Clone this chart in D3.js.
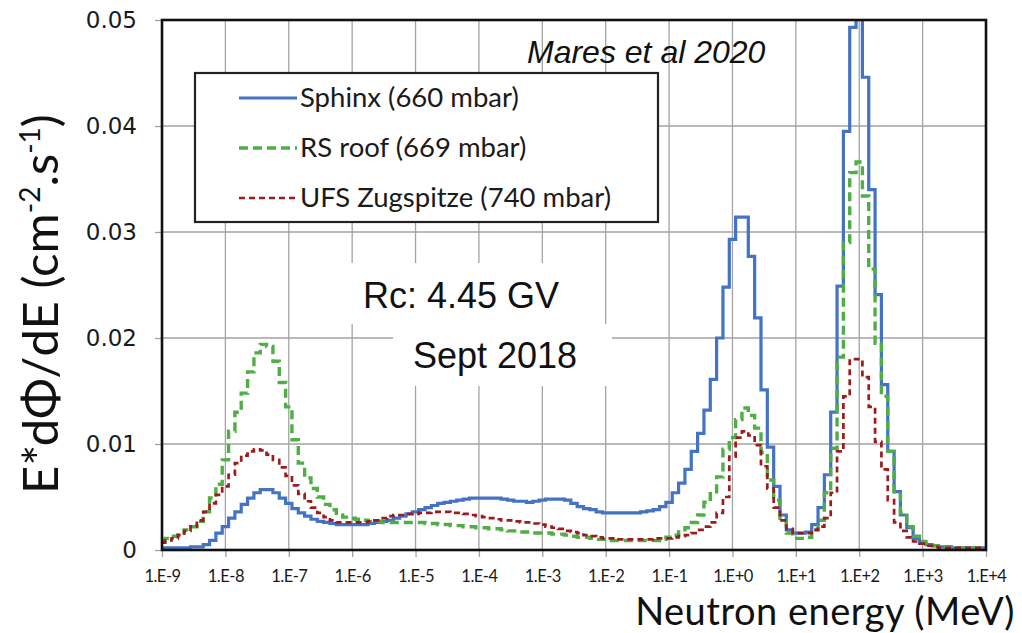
<!DOCTYPE html>
<html>
<head>
<meta charset="utf-8">
<script src="https://cdn.jsdelivr.net/npm/d3@7"></script>
<style>
  body { margin: 0; background: #fff; }
  svg { display: block; }
</style>
</head>
<body>
<svg id="chart" width="1022" height="633"></svg>
<script>
// Lethargy-bin spectra E*dPhi/dE, 10 bins per decade, bin centres from 1E-9 to 1E+4 MeV
const binsPerDecade = 10;
const firstExponent = -9;

const sphinx = [
  0.0002, 0.0002, 0.0002, 0.0002, 0.0002, 0.0003, 0.0003, 0.0005, 0.0009, 0.0016,
  0.0022, 0.0030, 0.0036, 0.0043, 0.0049, 0.0054, 0.0057, 0.0057, 0.0054, 0.0049,
  0.0044, 0.0039, 0.0035, 0.0032, 0.0029, 0.0027, 0.0026, 0.0025, 0.0024, 0.0024,
  0.0024, 0.0024, 0.0024, 0.0025, 0.0026, 0.0027, 0.0028, 0.0030, 0.0032, 0.0034,
  0.0036, 0.0038, 0.0040, 0.0042, 0.0044, 0.0045, 0.0046, 0.0047, 0.0048, 0.0049,
  0.0049, 0.0049, 0.0049, 0.0049, 0.0048, 0.0047, 0.0046, 0.0046, 0.0045, 0.0046,
  0.0047, 0.0048, 0.0048, 0.0048, 0.0047, 0.0044, 0.0041, 0.0039, 0.0038, 0.0036,
  0.0035, 0.0035, 0.0035, 0.0035, 0.0035, 0.0035, 0.0036, 0.0037, 0.0038, 0.0041,
  0.0045, 0.0054, 0.0063, 0.0076, 0.0093, 0.0110, 0.0132, 0.0161, 0.0200, 0.0248,
  0.0293, 0.0314, 0.0314, 0.0277, 0.0219, 0.0151, 0.0097, 0.0060, 0.0033, 0.0019,
  0.0016, 0.0016, 0.0017, 0.0024, 0.0040, 0.0071, 0.0130, 0.0249, 0.0395, 0.0493,
  0.0530, 0.0446, 0.0340, 0.0241, 0.0156, 0.0093, 0.0055, 0.0033, 0.0021, 0.0011,
  0.0007, 0.0005, 0.0004, 0.0003, 0.0003, 0.0002, 0.0002, 0.0002, 0.0002, 0.0002,
  0.0002
];

const rsRoof = [
  0.0009, 0.0011, 0.0013, 0.0016, 0.0019, 0.0022, 0.0027, 0.0036, 0.0049, 0.0062,
  0.0085, 0.0112, 0.0130, 0.0148, 0.0168, 0.0186, 0.0194, 0.0192, 0.0178, 0.0158,
  0.0135, 0.0104, 0.0082, 0.0068, 0.0058, 0.0050, 0.0043, 0.0038, 0.0033, 0.0031,
  0.0030, 0.0029, 0.0028, 0.0027, 0.0027, 0.0026, 0.0026, 0.0026, 0.0026, 0.0026,
  0.0026, 0.0026, 0.0025, 0.0025, 0.0024, 0.0024, 0.0023, 0.0023, 0.0022, 0.0022,
  0.0021, 0.0021, 0.0020, 0.0020, 0.0019, 0.0018, 0.0018, 0.0017, 0.0017, 0.0016,
  0.0016, 0.0016, 0.0015, 0.0015, 0.0014, 0.0013, 0.0012, 0.0012, 0.0011, 0.0010,
  0.0010, 0.0009, 0.0009, 0.0009, 0.0009, 0.0009, 0.0009, 0.0009, 0.0009, 0.0010,
  0.0012, 0.0014, 0.0017, 0.0021, 0.0026, 0.0033, 0.0045, 0.0055, 0.0069, 0.0095,
  0.0106, 0.0123, 0.0134, 0.0127, 0.0115, 0.0092, 0.0066, 0.0047, 0.0028, 0.0016,
  0.0011, 0.0011, 0.0012, 0.0019, 0.0028, 0.0054, 0.0096, 0.0182, 0.0290, 0.0356,
  0.0366, 0.0334, 0.0265, 0.0195, 0.0145, 0.0093, 0.0055, 0.0035, 0.0022, 0.0013,
  0.0008, 0.0006, 0.0004, 0.0003, 0.0003, 0.0002, 0.0002, 0.0002, 0.0002, 0.0002,
  0.0002
];

const ufsZugspitze = [
  0.0007, 0.0009, 0.0011, 0.0014, 0.0018, 0.0022, 0.0028, 0.0036, 0.0044, 0.0052,
  0.0060, 0.0071, 0.0082, 0.0089, 0.0093, 0.0095, 0.0094, 0.0090, 0.0085, 0.0078,
  0.0070, 0.0061, 0.0053, 0.0046, 0.0040, 0.0035, 0.0031, 0.0028, 0.0026, 0.0026,
  0.0026, 0.0026, 0.0026, 0.0027, 0.0028, 0.0030, 0.0032, 0.0033, 0.0033, 0.0034,
  0.0034, 0.0035, 0.0035, 0.0036, 0.0036, 0.0036, 0.0035, 0.0035, 0.0034, 0.0033,
  0.0032, 0.0031, 0.0030, 0.0029, 0.0028, 0.0028, 0.0027, 0.0026, 0.0026, 0.0025,
  0.0024, 0.0022, 0.0021, 0.0020, 0.0018, 0.0017, 0.0016, 0.0014, 0.0013, 0.0012,
  0.0011, 0.0011, 0.0010, 0.0010, 0.0010, 0.0010, 0.0010, 0.0010, 0.0011, 0.0011,
  0.0011, 0.0012, 0.0013, 0.0014, 0.0016, 0.0019, 0.0022, 0.0026, 0.0035, 0.0050,
  0.0088, 0.0106, 0.0112, 0.0108, 0.0099, 0.0079, 0.0058, 0.0040, 0.0028, 0.0020,
  0.0016, 0.0016, 0.0016, 0.0019, 0.0022, 0.0030, 0.0054, 0.0093, 0.0145, 0.0180,
  0.0180, 0.0163, 0.0135, 0.0102, 0.0076, 0.0047, 0.0026, 0.0018, 0.0012, 0.0008,
  0.0006, 0.0004, 0.0003, 0.0002, 0.0002, 0.0002, 0.0002, 0.0002, 0.0002, 0.0002,
  0.0002
];

const seriesNames = ["Sphinx (660 mbar)", "RS roof (669 mbar)", "UFS Zugspitze (740 mbar)"];
const xTickValues = [1e-9, 1e-8, 1e-7, 1e-6, 1e-5, 1e-4, 1e-3, 1e-2, 1e-1, 1e0, 1e1, 1e2, 1e3, 1e4];
const xTickLabels = ["1.E-9", "1.E-8", "1.E-7", "1.E-6", "1.E-5", "1.E-4", "1.E-3",
                     "1.E-2", "1.E-1", "1.E+0", "1.E+1", "1.E+2", "1.E+3", "1.E+4"];
const yTickValues = [0, 0.01, 0.02, 0.03, 0.04, 0.05];
const yTickLabels = ["0", "0.01", "0.02", "0.03", "0.04", "0.05"];

// bin-centre energies (MeV) on the lethargy grid
const energies = sphinx.map((_, i) => Math.pow(10, firstExponent + i / binsPerDecade));

const svg = d3.select("#chart");
const plot = { left: 162, right: 986, top: 20, bottom: 550 };

const x = d3.scaleLog().domain([1e-9, 1e4]).range([plot.left, plot.right]);
const y = d3.scaleLinear().domain([0, 0.05]).range([plot.bottom, plot.top]);

svg.append("rect").attr("width", 1022).attr("height", 633).attr("fill", "#fff");

// grid
const grid = svg.append("g").attr("stroke", "#a3a3a3").attr("stroke-width", 1.3);
grid.selectAll("line.v").data(xTickValues.slice(1, -1)).join("line")
  .attr("x1", d => x(d)).attr("x2", d => x(d))
  .attr("y1", plot.top).attr("y2", plot.bottom);
grid.selectAll("line.h").data(yTickValues.slice(1, -1)).join("line")
  .attr("x1", plot.left).attr("x2", plot.right)
  .attr("y1", d => y(d)).attr("y2", d => y(d));

// axes
const xAxis = d3.axisBottom(x).tickValues(xTickValues)
  .tickFormat((d, i) => xTickLabels[i]).tickSize(7).tickSizeOuter(0).tickPadding(13);
const gx = svg.append("g").attr("transform", `translate(0,${plot.bottom})`).call(xAxis);
gx.select(".domain").remove();
gx.selectAll(".tick line").attr("stroke", "#a3a3a3").attr("stroke-width", 1.3);
gx.selectAll(".tick text").attr("fill", "#1a1a1a")
  .style("font-family", "Lato, 'Open Sans', sans-serif").style("font-size", "16.5px")
  .style("letter-spacing", "-0.5px");

const yAxis = d3.axisLeft(y).tickValues(yTickValues)
  .tickFormat((d, i) => yTickLabels[i]).tickSize(7).tickSizeOuter(0).tickPadding(18);
const gy = svg.append("g").attr("transform", `translate(${plot.left},0)`).call(yAxis);
gy.select(".domain").remove();
gy.selectAll(".tick line").attr("stroke", "#a3a3a3").attr("stroke-width", 1.3);
gy.selectAll(".tick text").attr("fill", "#1a1a1a")
  .style("font-family", "'DejaVu Sans', Verdana, sans-serif").style("font-size", "23px");

// annotation boxes (white background behind the texts)
svg.append("rect").attr("x", 345).attr("y", 263).attr("width", 255).attr("height", 61).attr("fill", "#fff");
svg.append("rect").attr("x", 393).attr("y", 324).attr("width", 219).attr("height", 62).attr("fill", "#fff");

// series
svg.append("clipPath").attr("id", "plotClip").append("rect")
  .attr("x", plot.left).attr("y", plot.top)
  .attr("width", plot.right - plot.left).attr("height", plot.bottom - plot.top);

const line = d3.line().curve(d3.curveStep).x(d => x(d[0])).y(d => y(d[1]));
const series = [
  { name: seriesNames[0], values: sphinx, color: "#4472c4", width: 3.2, dash: null },
  { name: seriesNames[1], values: rsRoof, color: "#4fae44", width: 3.4, dash: "9,5" },
  { name: seriesNames[2], values: ufsZugspitze, color: "#9c1b1d", width: 2.7, dash: "6,4" }
];
const curves = svg.append("g").attr("clip-path", "url(#plotClip)");
series.forEach(s => {
  curves.append("path")
    .datum(energies.map((e, i) => [e, s.values[i]]))
    .attr("d", line)
    .attr("fill", "none")
    .attr("stroke", s.color)
    .attr("stroke-width", s.width)
    .attr("stroke-dasharray", s.dash)
    .attr("stroke-linejoin", "miter");
});

// plot frame
svg.append("rect")
  .attr("x", plot.left).attr("y", plot.top)
  .attr("width", plot.right - plot.left).attr("height", plot.bottom - plot.top)
  .attr("fill", "none").attr("stroke", "#111").attr("stroke-width", 2.6);

// legend
const legend = svg.append("g");
legend.append("rect").attr("x", 195).attr("y", 73).attr("width", 463).attr("height", 149)
  .attr("fill", "#fff").attr("stroke", "#222").attr("stroke-width", 2.2);
const legendRows = [98, 148, 198];
series.forEach((s, i) => {
  legend.append("line")
    .attr("x1", 239).attr("x2", 297).attr("y1", legendRows[i]).attr("y2", legendRows[i])
    .attr("stroke", s.color).attr("stroke-width", s.width).attr("stroke-dasharray", s.dash);
  legend.append("text")
    .attr("x", 300).attr("y", legendRows[i] + 9)
    .attr("fill", "#1a1a1a")
    .style("font-family", "Lato, 'Open Sans', sans-serif").style("font-size", "27.5px")
    .text(s.name);
});

// annotations
svg.append("text").attr("x", 527).attr("y", 63)
  .style("font-family", "'Liberation Sans', Arial, sans-serif").style("font-style", "italic")
  .style("font-size", "32px").attr("fill", "#111").text("Mares et al 2020");
svg.append("text").attr("x", 363).attr("y", 308)
  .style("font-family", "'Liberation Sans', Arial, sans-serif")
  .style("font-size", "36px").attr("fill", "#111").text("Rc: 4.45 GV");
svg.append("text").attr("x", 413).attr("y", 368)
  .style("font-family", "'Liberation Sans', Arial, sans-serif")
  .style("font-size", "36px").attr("fill", "#111").text("Sept 2018");

// axis titles
svg.append("text").attr("x", 1015).attr("y", 625).attr("text-anchor", "end")
  .style("font-family", "Lato, 'Open Sans', sans-serif").style("font-size", "38px")
  .style("letter-spacing", "0.5px")
  .attr("fill", "#111").text("Neutron energy (MeV)");

const yTitle = svg.append("text")
  .attr("transform", "translate(58,304) rotate(-90)")
  .attr("text-anchor", "middle")
  .style("font-family", "Lato, 'Open Sans', sans-serif").style("font-size", "49px")
  .attr("fill", "#111");
yTitle.append("tspan").text("E*dΦ/dE (cm");
yTitle.append("tspan").attr("dy", -18).style("font-size", "28px").text("-2");
yTitle.append("tspan").attr("dy", 18).text(".s");
yTitle.append("tspan").attr("dy", -18).style("font-size", "28px").text("-1");
yTitle.append("tspan").attr("dy", 18).text(")");
</script>
</body>
</html>
